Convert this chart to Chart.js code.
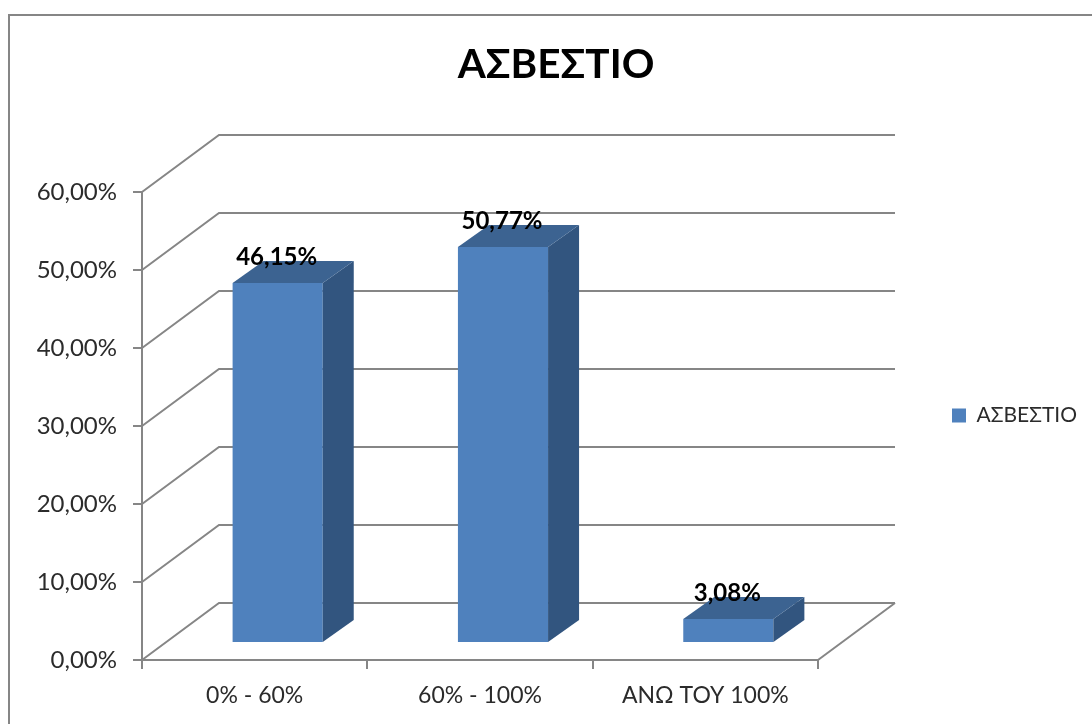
<!DOCTYPE html>
<html lang="el">
<head>
<meta charset="utf-8">
<title>ΑΣΒΕΣΤΙΟ</title>
<script src="https://cdn.jsdelivr.net/npm/chart.js@4"></script>
<style>
    html, body { margin: 0; height: 100%; overflow: hidden; background: #fff; }
    #frame { position: absolute; left: 8px; top: 14px; border-left: 2px solid #868686; border-top: 2px solid #868686; }
    #chart { display: block; filter: blur(0.6px); }
</style>
</head>
<body>
<div id="frame"><canvas id="chart" width="1092" height="724"></canvas></div>
<script>
const chartTitle = 'ΑΣΒΕΣΤΙΟ';
const categories = ['0% - 60%', '60% - 100%', 'ΑΝΩ ΤΟΥ 100%'];
const values = [46.15, 50.77, 3.08];
const yTickLabels = ['0,00%', '10,00%', '20,00%', '30,00%', '40,00%', '50,00%', '60,00%'];

const fontFamily = 'Lato, "Open Sans", sans-serif';
const gridColor = '#868686';
const textColor = '#2b2b2b';

// depth of the fake 3D box
const wallDx = 77, wallDy = 57;
const barShiftX = 23, barShiftY = 17;
const barDx = 31, barDy = 22;

const box3d = {
    id: 'box3d',
    beforeDatasetsDraw(chart) {
        const { ctx, chartArea, scales } = chart;
        ctx.save();
        ctx.strokeStyle = gridColor;
        ctx.lineWidth = 2;
        scales.y.ticks.forEach(t => {
            const y = scales.y.getPixelForValue(t.value);
            ctx.beginPath();
            ctx.moveTo(chartArea.left, y);
            ctx.lineTo(chartArea.left + wallDx, y - wallDy);
            ctx.lineTo(chartArea.right + wallDx, y - wallDy);
            ctx.stroke();
        });
        ctx.beginPath();
        ctx.moveTo(chartArea.right, chartArea.bottom);
        ctx.lineTo(chartArea.right + wallDx, chartArea.bottom - wallDy);
        ctx.stroke();
        ctx.restore();
    },
    beforeDatasetDraw(chart) {
        const ctx = chart.ctx;
        ctx.save();
        ctx.translate(barShiftX, -barShiftY);
    },
    afterDatasetDraw(chart, args) {
        const ctx = chart.ctx;
        args.meta.data.forEach(bar => {
            const l = bar.x - bar.width / 2, r = bar.x + bar.width / 2;
            ctx.fillStyle = '#32557f';
            ctx.beginPath();
            ctx.moveTo(r, bar.y);
            ctx.lineTo(r + barDx, bar.y - barDy);
            ctx.lineTo(r + barDx, bar.base - barDy);
            ctx.lineTo(r, bar.base);
            ctx.closePath();
            ctx.fill();
            ctx.fillStyle = '#3c6391';
            ctx.beginPath();
            ctx.moveTo(l, bar.y);
            ctx.lineTo(l + barDx, bar.y - barDy);
            ctx.lineTo(r + barDx, bar.y - barDy);
            ctx.lineTo(r, bar.y);
            ctx.closePath();
            ctx.fill();
        });
        ctx.restore();
    },
    afterDatasetsDraw(chart) {
        const ctx = chart.ctx;
        ctx.save();
        ctx.font = 'bold 24px ' + fontFamily;
        ctx.fillStyle = '#000';
        ctx.textAlign = 'center';
        ctx.textBaseline = 'middle';
        chart.getDatasetMeta(0).data.forEach((bar, i) => {
            const label = values[i].toFixed(2).replace('.', ',') + '%';
            ctx.fillText(label, bar.x + barShiftX - 1, bar.y - barShiftY - 26);
        });
        ctx.restore();
    },
    afterLayout(chart) {
        // legend sits outside the plot, right of the back wall
        const legend = chart.legend;
        legend.left = 942;
        legend.right = 1092;
        legend.top = 389;
        legend.bottom = 417;
        // title is centred on the whole frame, not on the plot
        chart.titleBlock.left = 0;
        chart.titleBlock.right = 1092;
    }
};

new Chart(document.getElementById('chart').getContext('2d'), {
    type: 'bar',
    data: {
        labels: categories,
        datasets: [{
            label: chartTitle,
            data: values,
            backgroundColor: '#4f81bd',
            borderWidth: 0,
            barPercentage: 1,
            categoryPercentage: 0.4
        }]
    },
    options: {
        responsive: false,
        animation: false,
        layout: { padding: { right: 284, bottom: 0, top: 0, left: 0 } },
        plugins: {
            tooltip: { enabled: false },
            title: {
                display: true,
                text: chartTitle,
                color: '#000',
                font: { family: fontFamily, size: 40.5, weight: 'bold', lineHeight: 1.2 },
                padding: { top: 25, bottom: 102.4 }
            },
            legend: {
                position: 'chartArea',
                align: 'start',
                labels: {
                    boxWidth: 14,
                    boxHeight: 14,
                    padding: 0,
                    color: textColor,
                    font: { family: fontFamily, size: 21 }
                }
            }
        },
        scales: {
            x: {
                afterFit(scale) { scale.height = 80; },
                grid: { drawOnChartArea: false, color: gridColor, lineWidth: 2, tickLength: 9 },
                border: { color: gridColor, width: 2 },
                ticks: { color: textColor, font: { family: fontFamily, size: 23 }, padding: 13, maxRotation: 0 }
            },
            y: {
                min: 0,
                max: 60,
                afterFit(scale) { scale.width = 132; },
                grid: { drawOnChartArea: false, color: gridColor, lineWidth: 2, tickLength: 9 },
                border: { color: gridColor, width: 2 },
                ticks: {
                    stepSize: 10,
                    color: textColor,
                    font: { family: fontFamily, size: 24 },
                    padding: 16,
                    callback: (value, index) => yTickLabels[index]
                }
            }
        }
    },
    plugins: [box3d]
});
</script>
</body>
</html>
